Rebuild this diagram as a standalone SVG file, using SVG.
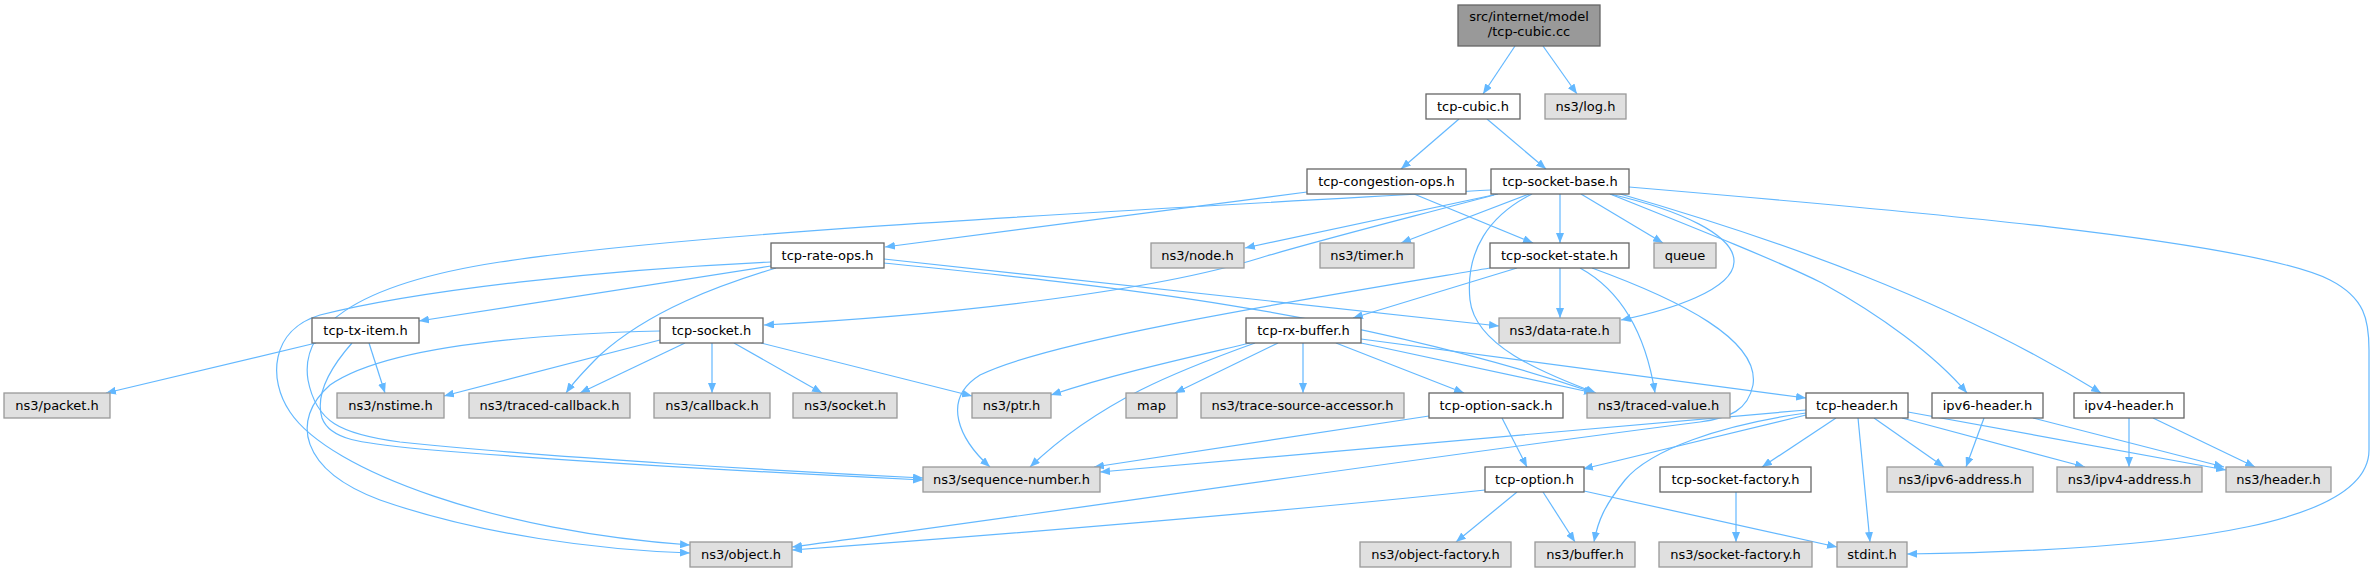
<svg xmlns="http://www.w3.org/2000/svg" width="2376" height="573" viewBox="0 0 2376 573">
<style>
.e{fill:none;stroke:#63b8ff;stroke-width:1.2;marker-end:url(#arr)}
.w{fill:#ffffff;stroke:#666666;stroke-width:1.3}
.g{fill:#e0e0e0;stroke:#999999;stroke-width:1.3}
.r{fill:#999999;stroke:#666666;stroke-width:1.3}
text{font-family:"DejaVu Sans","Liberation Sans",sans-serif;font-size:13px;fill:#000000;text-anchor:middle}
</style>
<defs>
<marker id="arr" viewBox="0 0 10 8" refX="10" refY="4" markerWidth="10" markerHeight="8" orient="auto" markerUnits="userSpaceOnUse">
<path d="M0,0 L10,4 L0,8 z" fill="#63b8ff"/>
</marker>
</defs>
<rect width="2376" height="573" fill="#ffffff"/>
<g id="edges">
<path class="e" d="M1515,46 L1483,94"/>
<path class="e" d="M1543,46 L1577,94"/>
<path class="e" d="M1459,119 L1401,169"/>
<path class="e" d="M1487,119 L1546,169"/>
<path class="e" d="M1307,192 L885,247"/>
<path class="e" d="M1414,194 L1533,243"/>
<path class="e" d="M1498,194 L1245,248"/>
<path class="e" d="M1529,194 L1401,243"/>
<path class="e" d="M1560,194 L1560,243"/>
<path class="e" d="M1581,194 L1663,243"/>
<path class="e" d="M1610,194 C1680,210 1735,235 1734,262 C1733,290 1670,310 1621,320"/>
<path class="e" d="M1532,194 C1490,215 1465,250 1470,300 C1475,345 1540,372 1596,393"/>
<path class="e" d="M1494,195 C1400,220 1320,240 1260,258 C1150,292 950,315 764,325"/>
<path class="e" d="M1491,190 C1100,212 700,232 500,262 C350,285 300,330 308,380 C316,422 340,434 400,442 C550,458 800,472 923,478"/>
<path class="e" d="M352,343 C330,368 315,395 322,418 C330,440 360,443 420,449 C600,464 800,474 923,480"/>
<path class="e" d="M771,262 C600,270 420,290 320,315 C270,330 268,380 290,412 C330,472 500,532 690,545"/>
<path class="e" d="M660,331 C500,335 380,350 330,385 C290,420 300,470 380,500 C480,535 600,550 690,553"/>
<path class="e" d="M771,266 L419,321"/>
<path class="e" d="M776,268 C720,285 650,310 600,355 C585,370 575,380 566,393"/>
<path class="e" d="M884,259 L1499,326"/>
<path class="e" d="M884,263 C1100,285 1350,310 1595,393"/>
<path class="e" d="M316,343 L106,393"/>
<path class="e" d="M369,343 L385,393"/>
<path class="e" d="M660,340 L444,396"/>
<path class="e" d="M685,343 L580,393"/>
<path class="e" d="M712,343 L712,393"/>
<path class="e" d="M734,343 L822,393"/>
<path class="e" d="M761,343 L972,396"/>
<path class="e" d="M1490,268 C1300,300 1050,340 980,375 C940,400 960,440 990,467"/>
<path class="e" d="M1517,268 L1353,318"/>
<path class="e" d="M1560,268 L1560,318"/>
<path class="e" d="M1580,268 C1620,290 1645,330 1655,393"/>
<path class="e" d="M1592,268 C1680,300 1760,340 1753,385 C1748,410 1730,418 1700,422 C1400,460 1000,520 792,547"/>
<path class="e" d="M1250,343 C1200,355 1120,372 1051,395"/>
<path class="e" d="M1255,343 C1180,370 1100,400 1030,467"/>
<path class="e" d="M1278,343 L1175,393"/>
<path class="e" d="M1303,343 L1303,393"/>
<path class="e" d="M1336,343 L1464,393"/>
<path class="e" d="M1361,343 L1594,393"/>
<path class="e" d="M1361,339 L1806,398"/>
<path class="e" d="M1429,416 L1094,467"/>
<path class="e" d="M1502,418 L1527,467"/>
<path class="e" d="M1806,410 L1100,472"/>
<path class="e" d="M1806,415 L1583,469"/>
<path class="e" d="M1806,413 C1720,425 1650,450 1625,480 C1605,505 1598,520 1594,542"/>
<path class="e" d="M1836,418 L1762,467"/>
<path class="e" d="M1858,418 L1870,542"/>
<path class="e" d="M1874,418 L1944,467"/>
<path class="e" d="M1902,418 L2085,467"/>
<path class="e" d="M1908,412 L2226,470"/>
<path class="e" d="M1984,418 L1966,467"/>
<path class="e" d="M2033,418 L2224,467"/>
<path class="e" d="M2129,418 L2129,467"/>
<path class="e" d="M2153,418 L2255,467"/>
<path class="e" d="M1610,194 C1700,230 1780,262 1822,283 C1880,315 1935,355 1967,393"/>
<path class="e" d="M1617,193 C1780,240 1950,300 2101,393"/>
<path class="e" d="M1629,187 C1900,210 2250,240 2330,280 C2365,298 2369,320 2369,350 L2369,450 C2369,520 2200,550 1907,554"/>
<path class="e" d="M1485,490 C1300,510 1000,535 792,550"/>
<path class="e" d="M1517,492 L1456,542"/>
<path class="e" d="M1543,492 L1575,542"/>
<path class="e" d="M1584,491 L1837,547"/>
<path class="e" d="M1736,492 L1736,542"/>
</g>
<g id="n-root"><rect class="r" x="1458" y="5" width="142" height="41"/><text x="1529" y="21">src/internet/model</text><text x="1529" y="36">/tcp-cubic.cc</text></g>
<g id="n-tcp-cubic-h"><rect class="w" x="1426" y="94" width="94" height="25"/><text x="1473" y="111">tcp-cubic.h</text></g>
<g id="n-log-h"><rect class="g" x="1545" y="94" width="81" height="25"/><text x="1585.5" y="111">ns3/log.h</text></g>
<g id="n-tcp-congestion-ops-h"><rect class="w" x="1307" y="169" width="159" height="25"/><text x="1386.5" y="186">tcp-congestion-ops.h</text></g>
<g id="n-tcp-socket-base-h"><rect class="w" x="1491" y="169" width="138" height="25"/><text x="1560" y="186">tcp-socket-base.h</text></g>
<g id="n-tcp-rate-ops-h"><rect class="w" x="771" y="243" width="113" height="25"/><text x="827.5" y="260">tcp-rate-ops.h</text></g>
<g id="n-node-h"><rect class="g" x="1151" y="243" width="93" height="25"/><text x="1197.5" y="260">ns3/node.h</text></g>
<g id="n-timer-h"><rect class="g" x="1320" y="243" width="94" height="25"/><text x="1367" y="260">ns3/timer.h</text></g>
<g id="n-tcp-socket-state-h"><rect class="w" x="1490" y="243" width="139" height="25"/><text x="1559.5" y="260">tcp-socket-state.h</text></g>
<g id="n-queue"><rect class="g" x="1654" y="243" width="62" height="25"/><text x="1685" y="260">queue</text></g>
<g id="n-tcp-tx-item-h"><rect class="w" x="312" y="318" width="107" height="25"/><text x="365.5" y="335">tcp-tx-item.h</text></g>
<g id="n-tcp-socket-h"><rect class="w" x="660" y="318" width="103" height="25"/><text x="711.5" y="335">tcp-socket.h</text></g>
<g id="n-tcp-rx-buffer-h"><rect class="w" x="1246" y="318" width="115" height="25"/><text x="1303.5" y="335">tcp-rx-buffer.h</text></g>
<g id="n-data-rate-h"><rect class="g" x="1499" y="318" width="121" height="25"/><text x="1559.5" y="335">ns3/data-rate.h</text></g>
<g id="n-packet-h"><rect class="g" x="4" y="393" width="106" height="25"/><text x="57" y="410">ns3/packet.h</text></g>
<g id="n-nstime-h"><rect class="g" x="337" y="393" width="107" height="25"/><text x="390.5" y="410">ns3/nstime.h</text></g>
<g id="n-traced-callback-h"><rect class="g" x="469" y="393" width="161" height="25"/><text x="549.5" y="410">ns3/traced-callback.h</text></g>
<g id="n-callback-h"><rect class="g" x="654" y="393" width="116" height="25"/><text x="712" y="410">ns3/callback.h</text></g>
<g id="n-socket-h"><rect class="g" x="793" y="393" width="104" height="25"/><text x="845" y="410">ns3/socket.h</text></g>
<g id="n-ptr-h"><rect class="g" x="972" y="393" width="79" height="25"/><text x="1011.5" y="410">ns3/ptr.h</text></g>
<g id="n-map"><rect class="g" x="1126" y="393" width="51" height="25"/><text x="1151.5" y="410">map</text></g>
<g id="n-trace-source-accessor-h"><rect class="g" x="1201" y="393" width="203" height="25"/><text x="1302.5" y="410">ns3/trace-source-accessor.h</text></g>
<g id="n-tcp-option-sack-h"><rect class="w" x="1429" y="393" width="134" height="25"/><text x="1496" y="410">tcp-option-sack.h</text></g>
<g id="n-traced-value-h"><rect class="g" x="1587" y="393" width="143" height="25"/><text x="1658.5" y="410">ns3/traced-value.h</text></g>
<g id="n-tcp-header-h"><rect class="w" x="1806" y="393" width="102" height="25"/><text x="1857" y="410">tcp-header.h</text></g>
<g id="n-ipv6-header-h"><rect class="w" x="1932" y="393" width="111" height="25"/><text x="1987.5" y="410">ipv6-header.h</text></g>
<g id="n-ipv4-header-h"><rect class="w" x="2074" y="393" width="110" height="25"/><text x="2129" y="410">ipv4-header.h</text></g>
<g id="n-sequence-number-h"><rect class="g" x="923" y="467" width="177" height="25"/><text x="1011.5" y="484">ns3/sequence-number.h</text></g>
<g id="n-tcp-option-h"><rect class="w" x="1485" y="467" width="99" height="25"/><text x="1534.5" y="484">tcp-option.h</text></g>
<g id="n-tcp-socket-factory-h"><rect class="w" x="1660" y="467" width="151" height="25"/><text x="1735.5" y="484">tcp-socket-factory.h</text></g>
<g id="n-ipv6-address-h"><rect class="g" x="1887" y="467" width="146" height="25"/><text x="1960" y="484">ns3/ipv6-address.h</text></g>
<g id="n-ipv4-address-h"><rect class="g" x="2057" y="467" width="145" height="25"/><text x="2129.5" y="484">ns3/ipv4-address.h</text></g>
<g id="n-header-h"><rect class="g" x="2226" y="467" width="105" height="25"/><text x="2278.5" y="484">ns3/header.h</text></g>
<g id="n-object-h"><rect class="g" x="690" y="542" width="102" height="25"/><text x="741" y="559">ns3/object.h</text></g>
<g id="n-object-factory-h"><rect class="g" x="1360" y="542" width="151" height="25"/><text x="1435.5" y="559">ns3/object-factory.h</text></g>
<g id="n-buffer-h"><rect class="g" x="1535" y="542" width="100" height="25"/><text x="1585" y="559">ns3/buffer.h</text></g>
<g id="n-socket-factory-h"><rect class="g" x="1659" y="542" width="153" height="25"/><text x="1735.5" y="559">ns3/socket-factory.h</text></g>
<g id="n-stdint-h"><rect class="g" x="1837" y="542" width="70" height="25"/><text x="1872" y="559">stdint.h</text></g>
</svg>
